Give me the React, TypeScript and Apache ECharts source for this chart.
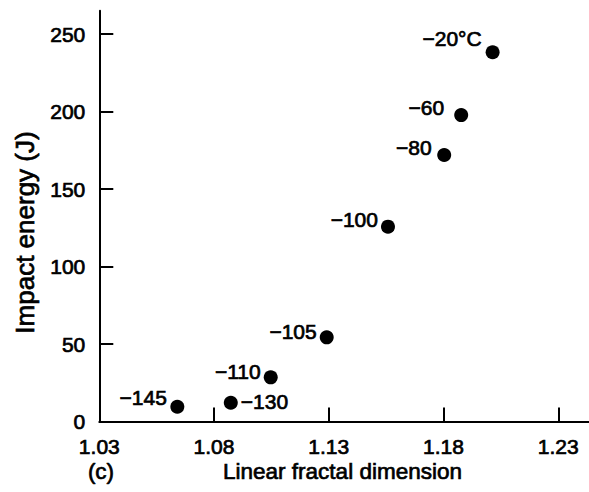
import React, { useEffect, useRef } from "react";
import * as echarts from "echarts";

const temperatureLabels = ["−20°C", "−60", "−80", "−100", "−105", "−110", "−130", "−145"];
const fractalDimension = [1.2014, 1.1877, 1.1803, 1.1558, 1.1291, 1.1047, 1.0873, 1.064];
const impactEnergy = [238.2, 197.7, 171.9, 125.7, 54.3, 28.5, 12.1, 9.5];
const xTicks = [1.03, 1.08, 1.13, 1.18, 1.23];
const yTicks = [0, 50, 100, 150, 200, 250];

// label placement per point: side, gap from dot edge, vertical shift
const labelPlacement: { side: "left" | "right"; gap: number; dy: number }[] = [
  { side: "left", gap: 4, dy: -14 },
  { side: "left", gap: 10, dy: -8 },
  { side: "left", gap: 5.5, dy: -8 },
  { side: "left", gap: 3, dy: -7 },
  { side: "left", gap: 3, dy: -6 },
  { side: "left", gap: 3, dy: -6 },
  { side: "right", gap: 3, dy: -1 },
  { side: "left", gap: 3.5, dy: -9 },
];

const FONT = "'Liberation Sans', Arial, Helvetica, sans-serif";
const INK = "#000";
const txt = { color: INK, fontFamily: FONT, fontWeight: "normal", textBorderColor: "#000", textBorderWidth: 0.7 };

export default function App() {
  const ref = useRef<HTMLDivElement>(null);
  useEffect(() => {
    if (!ref.current) return;
    const chart = echarts.init(ref.current, undefined, { renderer: "svg" });
    const data = temperatureLabels.map((name, i) => ({
      name,
      value: [fractalDimension[i], impactEnergy[i]],
      label: {
        show: true,
        formatter: name,
        position: labelPlacement[i].side,
        distance: labelPlacement[i].gap,
        offset: [0, labelPlacement[i].dy],
        fontSize: 21,
        ...txt,
      },
    }));
    const gtxt = (text: string, size: number) => ({
      text,
      fontSize: size,
      fontFamily: FONT,
      fill: INK,
      stroke: "#000",
      lineWidth: 0.7,
      align: "center",
      verticalAlign: "middle",
    });
    chart.setOption({
      animation: false,
      backgroundColor: "#fff",
      grid: { left: 99.3, right: 0, top: 10.75, bottom: 70.5 },
      xAxis: {
        type: "value",
        min: 1.03,
        max: 1.2434,
        axisLine: { show: true, onZero: false, lineStyle: { color: "#000", width: 2 } },
        axisTick: { show: true, inside: true, length: 14, customValues: xTicks, lineStyle: { color: "#000", width: 2 } },
        axisLabel: {
          customValues: xTicks,
          formatter: (v: number) => v.toFixed(2),
          fontSize: 21,
          margin: 14,
          ...txt,
        },
        splitLine: { show: false },
      },
      yAxis: {
        type: "value",
        min: 0,
        max: 265,
        axisLine: { show: true, onZero: false, lineStyle: { color: "#000", width: 2 } },
        axisTick: { show: true, inside: true, length: 14, customValues: yTicks, lineStyle: { color: "#000", width: 2 } },
        axisLabel: {
          customValues: yTicks,
          fontSize: 21,
          margin: 14,
          ...txt,
        },
        splitLine: { show: false },
      },
      graphic: [
        { type: "text", x: 342.5, y: 471, style: gtxt("Linear fractal dimension", 22.5) },
        { type: "text", x: 101, y: 471, style: gtxt("(c)", 22.5) },
        { type: "text", x: 25, y: 232.5, rotation: Math.PI / 2, style: gtxt("Impact energy (J)", 26) },
      ],
      series: [
        {
          type: "scatter",
          symbol: "circle",
          symbolSize: 14,
          itemStyle: { color: "#000", opacity: 1 },
          data,
        },
      ],
    });
    return () => chart.dispose();
  }, []);
  return <div ref={ref} style={{ position: "absolute", left: 0, top: 0, width: 589, height: 492 }} />;
}
